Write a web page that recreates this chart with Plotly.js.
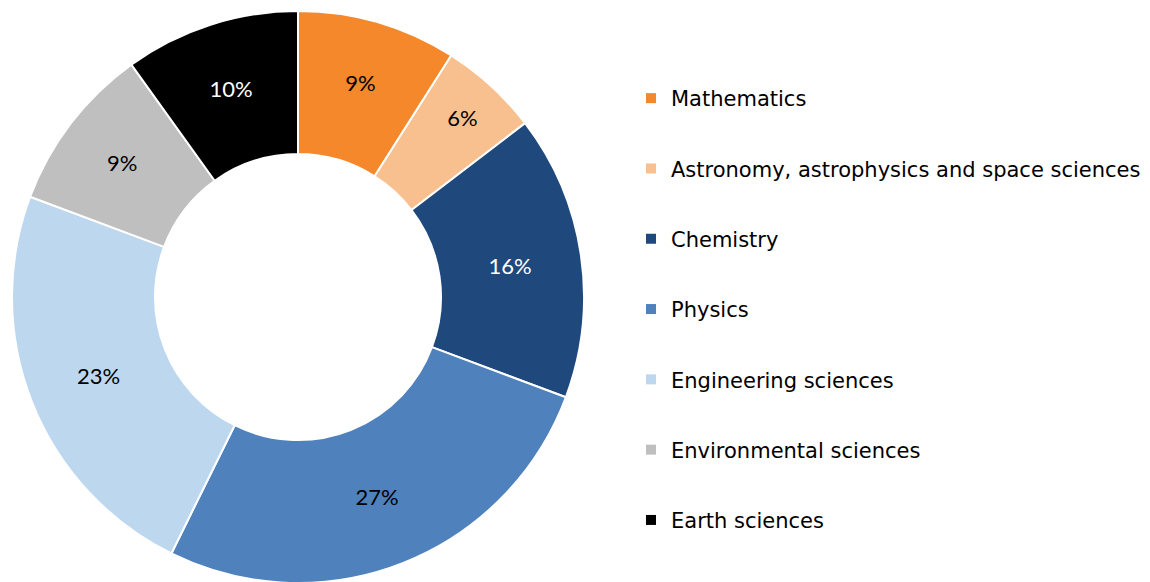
<!DOCTYPE html>
<html>
<head>
<meta charset="utf-8">
<script src="https://cdn.plot.ly/plotly-3.0.1.min.js"></script>
<style>
html,body{margin:0;padding:0;background:#fff;overflow:hidden;}
#chart{width:1150px;height:594px;}
</style>
</head>
<body>
<div id="chart"></div>
<script>
const categories = [
  "Mathematics",
  "Astronomy, astrophysics and space sciences",
  "Chemistry",
  "Physics",
  "Engineering sciences",
  "Environmental sciences",
  "Earth sciences"
];
const shares = [9.0, 5.6, 16.1, 26.6, 23.4, 9.4, 9.9];
const colors = ["#F5882A", "#F9C08F", "#1F497D", "#4F81BD", "#BDD7EE", "#BFBFBF", "#000000"];
const textColors = ["#000000", "#000000", "#FFFFFF", "#000000", "#000000", "#000000", "#FFFFFF"];

const traces = [{
  type: "pie",
  labels: categories,
  values: shares,
  sort: false,
  direction: "clockwise",
  rotation: 0,
  hole: 0.5,
  marker: {colors: colors, line: {color: "#FFFFFF", width: 2}},
  texttemplate: "%{percent:.0%}",
  textposition: "inside",
  insidetextorientation: "horizontal",
  insidetextfont: {family: "Lato, 'Open Sans', sans-serif", size: 22, color: textColors},
  domain: {x: [12/1150, 584/1150], y: [0, 1]},
  showlegend: false,
  hoverinfo: "label+percent"
}];

categories.forEach((c, i) => {
  traces.push({
    type: "scatter",
    x: [null], y: [null],
    mode: "markers",
    name: c,
    legendgroup: "g" + i,
    marker: {symbol: "square", size: 10, color: colors[i]},
    showlegend: true,
    hoverinfo: "skip"
  });
});

const layout = {
  width: 1150,
  height: 594,
  margin: {l: 0, r: 0, t: 0, b: 0},
  paper_bgcolor: "#FFFFFF",
  plot_bgcolor: "#FFFFFF",
  xaxis: {visible: false},
  yaxis: {visible: false},
  showlegend: true,
  legend: {
    x: 631/1150, xanchor: "left",
    y: 1 - 78/594, yanchor: "top",
    font: {family: "'DejaVu Sans', Verdana, sans-serif", size: 21, color: "#000000"},
    tracegroupgap: 40,
    itemwidth: 30,
    bgcolor: "rgba(0,0,0,0)"
  }
};

Plotly.newPlot("chart", traces, layout, {displayModeBar: false, staticPlot: true});
</script>
</body>
</html>
